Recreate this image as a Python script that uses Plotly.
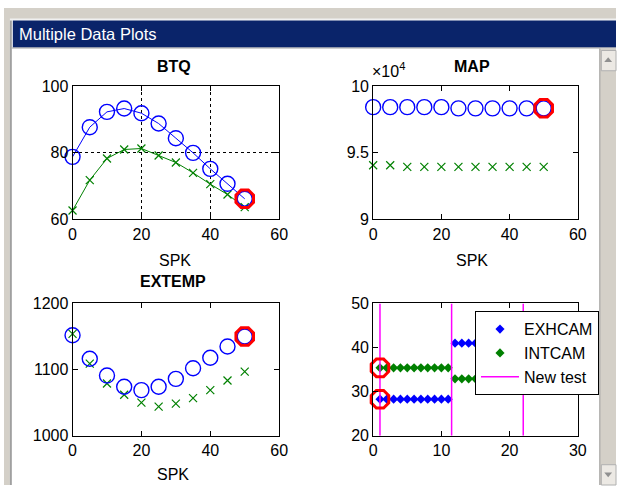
import plotly.graph_objects as go

W, H = 625, 494

# ---------------- data ----------------
spk = [0, 5, 10, 15, 20, 25, 30, 35, 40, 45, 50]

btq_blue = [78.8, 87.7, 92.3, 93.3, 91.9, 88.8, 84.4, 80.0, 75.2, 70.7, 66.2]
btq_green = [62.7, 71.8, 78.3, 81.0, 81.3, 79.2, 77.1, 74.0, 70.6, 67.5, 63.7]

map_blue = [98430, 98430, 98430, 98430, 98430, 98340, 98340, 98340, 98340, 98340, 98340]
map_green = [94070, 94070, 93950, 93950, 93950, 93950, 93950, 93950, 93950, 93950, 93950]

ext_blue = [1152, 1116.5, 1091, 1074, 1069, 1074, 1086, 1102, 1118, 1135, 1150]
ext_green = [1154, 1109, 1079, 1062, 1050, 1044, 1048.5, 1057, 1069, 1083.5, 1097]

test_idx = [1, 2, 3, 4, 5, 6, 7, 8, 9, 10, 11, 12, 13, 14, 15, 16, 17, 18, 19, 20, 21, 22]
exhcam = [28.3] * 11 + [41.0] * 11
intcam = [35.4] * 11 + [32.9] * 11
new_test = [1, 11.5, 22]

hl_btq = (50, 66.2)
hl_map = (50, 98340)
hl_ext = (50, 1150)
hl_cam_x = [1, 1]
hl_cam_y = [28.3, 35.4]

BLUE = "#0000ff"
GREEN = "#008000"
RED = "#ff0000"
MAG = "#ff00ff"
FONT = "Liberation Sans, Arial, sans-serif"


def px_x(p):
    return p / W


def px_y(p):
    return 1 - p / H


fig = go.Figure()


def circ(x, y, xa, ya, lines=False, color=BLUE):
    return go.Scatter(x=x, y=y, xaxis=xa, yaxis=ya, mode="lines+markers" if lines else "markers",
                      line=dict(color=color, width=1),
                      marker=dict(symbol="circle-open", size=15, color=color, line=dict(width=1.4, color=color)),
                      showlegend=False, cliponaxis=False, hoverinfo="skip")


def xs(x, y, xa, ya, lines=False, color=GREEN):
    return go.Scatter(x=x, y=y, xaxis=xa, yaxis=ya, mode="lines+markers" if lines else "markers",
                      line=dict(color=color, width=1),
                      marker=dict(symbol="x-thin-open", size=8, color=color, line=dict(width=1.2, color=color)),
                      showlegend=False, cliponaxis=False, hoverinfo="skip")


def hl(x, y, xa, ya):
    return go.Scatter(x=x, y=y, xaxis=xa, yaxis=ya, mode="markers",
                      marker=dict(symbol="octagon-open", size=19, color=RED, line=dict(width=3, color=RED)),
                      showlegend=False, cliponaxis=False, hoverinfo="skip")


# BTQ
fig.add_trace(xs(spk, btq_green, "x", "y", lines=True))
fig.add_trace(circ(spk, btq_blue, "x", "y", lines=True))
fig.add_trace(hl([hl_btq[0]], [hl_btq[1]], "x", "y"))
# MAP
fig.add_trace(xs(spk, map_green, "x2", "y2"))
fig.add_trace(circ(spk, map_blue, "x2", "y2"))
fig.add_trace(hl([hl_map[0]], [hl_map[1]], "x2", "y2"))
# EXTEMP
fig.add_trace(xs(spk, ext_green, "x3", "y3"))
fig.add_trace(circ(spk, ext_blue, "x3", "y3"))
fig.add_trace(hl([hl_ext[0]], [hl_ext[1]], "x3", "y3"))
# cams
lx, ly = [], []
for v in new_test:
    lx += [v, v, None]
    ly += [20, 50, None]
fig.add_trace(go.Scatter(x=test_idx, y=exhcam, xaxis="x4", yaxis="y4", mode="markers", name="EXHCAM",
                         marker=dict(symbol="diamond", size=7, color=BLUE), cliponaxis=False, hoverinfo="skip"))
fig.add_trace(go.Scatter(x=test_idx, y=intcam, xaxis="x4", yaxis="y4", mode="markers", name="INTCAM",
                         marker=dict(symbol="diamond", size=7, color=GREEN), cliponaxis=False, hoverinfo="skip"))
fig.add_trace(go.Scatter(x=lx, y=ly, xaxis="x4", yaxis="y4", mode="lines", name="New test",
                         line=dict(color=MAG, width=1.5), hoverinfo="skip"))
fig.add_trace(hl(hl_cam_x, hl_cam_y, "x4", "y4"))

ax = dict(showline=True, linecolor="black", linewidth=1, mirror="ticks", ticks="inside", ticklen=5,
          tickcolor="black", zeroline=False, showgrid=False, tickfont=dict(size=16, color="black", family=FONT))

left_dom = [px_x(70), px_x(281)]
right_dom = [px_x(377), px_x(586)]
top_dom = [px_y(219), px_y(81)]
bot_dom = [px_y(443), px_y(306)]

grid = dict(showgrid=True, gridcolor="black", griddash="dot", gridwidth=1)

fig.update_layout(
    width=W, height=H, margin=dict(l=0, r=0, t=0, b=0, pad=0), autosize=False,
    paper_bgcolor="white", plot_bgcolor="white",
    font=dict(family=FONT, color="black", size=16),
    xaxis=dict(ax, domain=left_dom, range=[0, 60], tickvals=[0, 20, 40, 60], anchor="y", **grid),
    yaxis=dict(ax, domain=top_dom, range=[60, 100], tickvals=[60, 80, 100], anchor="x", **grid),
    xaxis2=dict(ax, domain=right_dom, range=[0, 60], tickvals=[0, 20, 40, 60], anchor="y2"),
    yaxis2=dict(ax, domain=top_dom, range=[90000, 100000], tickvals=[90000, 95000, 100000],
                ticktext=["9", "9.5", "10"], anchor="x2"),
    xaxis3=dict(ax, domain=left_dom, range=[0, 60], tickvals=[0, 20, 40, 60], anchor="y3"),
    yaxis3=dict(ax, domain=bot_dom, range=[1000, 1200], tickvals=[1000, 1100, 1200], anchor="x3"),
    xaxis4=dict(ax, domain=right_dom, range=[0, 30], tickvals=[0, 10, 20, 30], anchor="y4"),
    yaxis4=dict(ax, domain=bot_dom, range=[20, 50], tickvals=[20, 30, 40, 50], anchor="x4"),
    legend=dict(x=px_x(481), y=px_y(314), xanchor="left", yanchor="top", bgcolor="white",
                bordercolor="black", borderwidth=1, font=dict(size=16, color="black", family=FONT),
                tracegroupgap=0, itemwidth=38),
    showlegend=True,
)

ann = []


def text(t, x, y, size=16, bold=False, color="black", xanchor="center"):
    ann.append(dict(text=("<b>%s</b>" % t) if bold else t, x=px_x(x), y=px_y(y), xref="paper", yref="paper",
                    showarrow=False, xanchor=xanchor, yanchor="middle",
                    font=dict(size=size, color=color, family=FONT)))


text("Multiple Data Plots", 13, 27, size=16.5, color="white", xanchor="left")
text("BTQ", 174, 61, bold=True)
text("MAP", 478, 61, bold=True)
text("EXTEMP", 173, 283, bold=True)
text("SPK", 175, 261)
text("SPK", 478, 261)
text("SPK", 173, 483)
text("×10<sup>4</sup>", 374, 64, xanchor="left")
fig.update_layout(annotations=ann)

shapes = []


def rect(x0, y0, x1, y1, fill, line=None):
    shapes.append(dict(type="rect", xref="paper", yref="paper", x0=px_x(x0), x1=px_x(x1), y0=px_y(y1), y1=px_y(y0),
                       fillcolor=fill, line=dict(width=1 if line else 0, color=line or fill), layer="above"))


def tri(pts, fill):
    path = "M " + " L ".join("%f,%f" % (px_x(a), px_y(b)) for a, b in pts) + " Z"
    shapes.append(dict(type="path", xref="paper", yref="paper", path=path, fillcolor=fill,
                       line=dict(width=0), layer="above"))


# window chrome
rect(0, 0, 625, 12, "#d4d0c8")
rect(0, 11, 625, 13, "#f0f0f0")
rect(0, 0, 6, 494, "#d4d0c8")
rect(6, 13, 8, 494, "#a0a0a0")
rect(9, 13, 625, 41, "#0a246a")
rect(8, 41, 625, 42, "#a0a0a0")
# scrollbar
rect(608, 42, 625, 494, "#d4d0c8")
rect(608, 42, 609, 494, "#a0a0a0")
rect(610, 44, 625, 65, "#ece9e4", "#b0b0b0")
rect(610, 473, 625, 494, "#ece9e4", "#b0b0b0")
tri([(617, 51), (621, 56), (613, 56)], "#909090")
tri([(613, 481), (621, 481), (617, 486)], "#909090")
fig.update_layout(shapes=shapes)

fig.write_html("out.html", config={"displayModeBar": False},
               post_script="document.body.style.margin='0';document.body.style.overflow='hidden';")
